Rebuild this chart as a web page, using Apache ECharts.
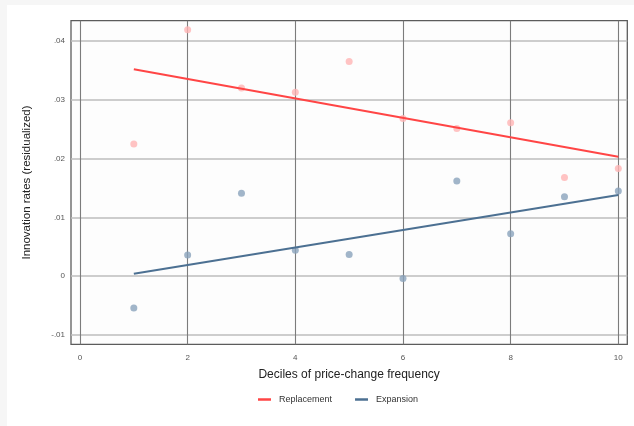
<!DOCTYPE html>
<html>
<head>
<meta charset="utf-8">
<script src="https://cdn.jsdelivr.net/npm/echarts@6/dist/echarts.min.js"></script>
<style>
  html, body { margin: 0; padding: 0; background: #f6f6f6; width: 634px; height: 426px; overflow: hidden; }
  #chart { position: absolute; left: 7px; top: 5px; width: 627px; height: 421px; background: #ffffff; }
</style>
</head>
<body>
<div id="chart"></div>
<script>
// Deciles of price-change frequency
const deciles = [1, 2, 3, 4, 5, 6, 7, 8, 9, 10];
// Residualized innovation rates by decile
const replacement = [0.0225, 0.0419, 0.0320, 0.0313, 0.0365, 0.0268, 0.0251, 0.0261, 0.0168, 0.0183];
const expansion = [-0.0054, 0.0036, 0.0141, 0.0044, 0.0037, -0.0004, 0.0162, 0.0072, 0.0135, 0.0145];
// Linear fit endpoints (decile 1 and decile 10)
const fitX = [1, 10];
const replacementFit = [0.0352, 0.0203];
const expansionFit = [0.0004, 0.0138];
// Tick values
const xTicks = [0, 2, 4, 6, 8, 10];
const yTicks = [-0.01, 0, 0.01, 0.02, 0.03, 0.04];

const pairs = (xs, ys) => xs.map((x, i) => [x, ys[i]]);
const fmtY = v => {
  if (Math.abs(v) < 1e-9) return '0';
  return (v < 0 ? '-' : '') + Math.abs(v).toFixed(2).replace(/^0/, '');
};

const chart = echarts.init(document.getElementById('chart'), null, { renderer: 'canvas' });
chart.setOption({
  animation: false,
  textStyle: { fontFamily: 'Liberation Sans, Arial, sans-serif' },
  grid: {
    left: 64, right: 6.7, top: 15.7, bottom: 81.7,
    show: true, borderColor: '#5c5c5c', borderWidth: 1.3, backgroundColor: '#fdfdfd'
  },
  legend: {
    bottom: 17, left: 246, itemGap: 23, itemWidth: 13, itemHeight: 2.5,
    data: [
      { name: 'Replacement', icon: 'rect' },
      { name: 'Expansion', icon: 'rect' }
    ],
    textStyle: { fontSize: 9, color: '#333', padding: [0, 0, 0, 3] }
  },
  xAxis: {
    type: 'value', min: -0.167, max: 10.167,
    name: 'Deciles of price-change frequency', nameLocation: 'middle', nameGap: 24,
    nameTextStyle: { fontSize: 12, color: '#222' },
    axisLine: { show: false },
    axisTick: { show: false, customValues: xTicks },
    axisLabel: { customValues: xTicks, fontSize: 8, color: '#555', margin: 9 },
    splitLine: { show: true, lineStyle: { color: '#7c7c7c', width: 1.1 } }
  },
  yAxis: {
    type: 'value', min: -0.01158, max: 0.04345,
    name: 'Innovation rates (residualized)', nameLocation: 'middle', nameGap: 38,
    nameTextStyle: { fontSize: 11.5, color: '#222' },
    axisLine: { show: false },
    axisTick: { show: false, customValues: yTicks },
    axisLabel: { customValues: yTicks, fontSize: 8, color: '#555', margin: 6, formatter: fmtY },
    splitLine: { show: true, lineStyle: { color: '#bdbdbd', width: 1.5 } }
  },
  series: [
    {
      name: 'Replacement points', type: 'scatter', data: pairs(deciles, replacement),
      symbolSize: 7, itemStyle: { color: '#ffb4b4' }, z: 3
    },
    {
      name: 'Expansion points', type: 'scatter', data: pairs(deciles, expansion),
      symbolSize: 7, itemStyle: { color: '#8aa3bc' }, z: 3
    },
    {
      name: 'Replacement', type: 'line', data: pairs(fitX, replacementFit),
      symbol: 'none', lineStyle: { color: '#ff4545', width: 2 }, itemStyle: { color: '#ff4545' }, z: 4
    },
    {
      name: 'Expansion', type: 'line', data: pairs(fitX, expansionFit),
      symbol: 'none', lineStyle: { color: '#4c7092', width: 2 }, itemStyle: { color: '#4c7092' }, z: 4
    }
  ]
});
</script>
</body>
</html>
